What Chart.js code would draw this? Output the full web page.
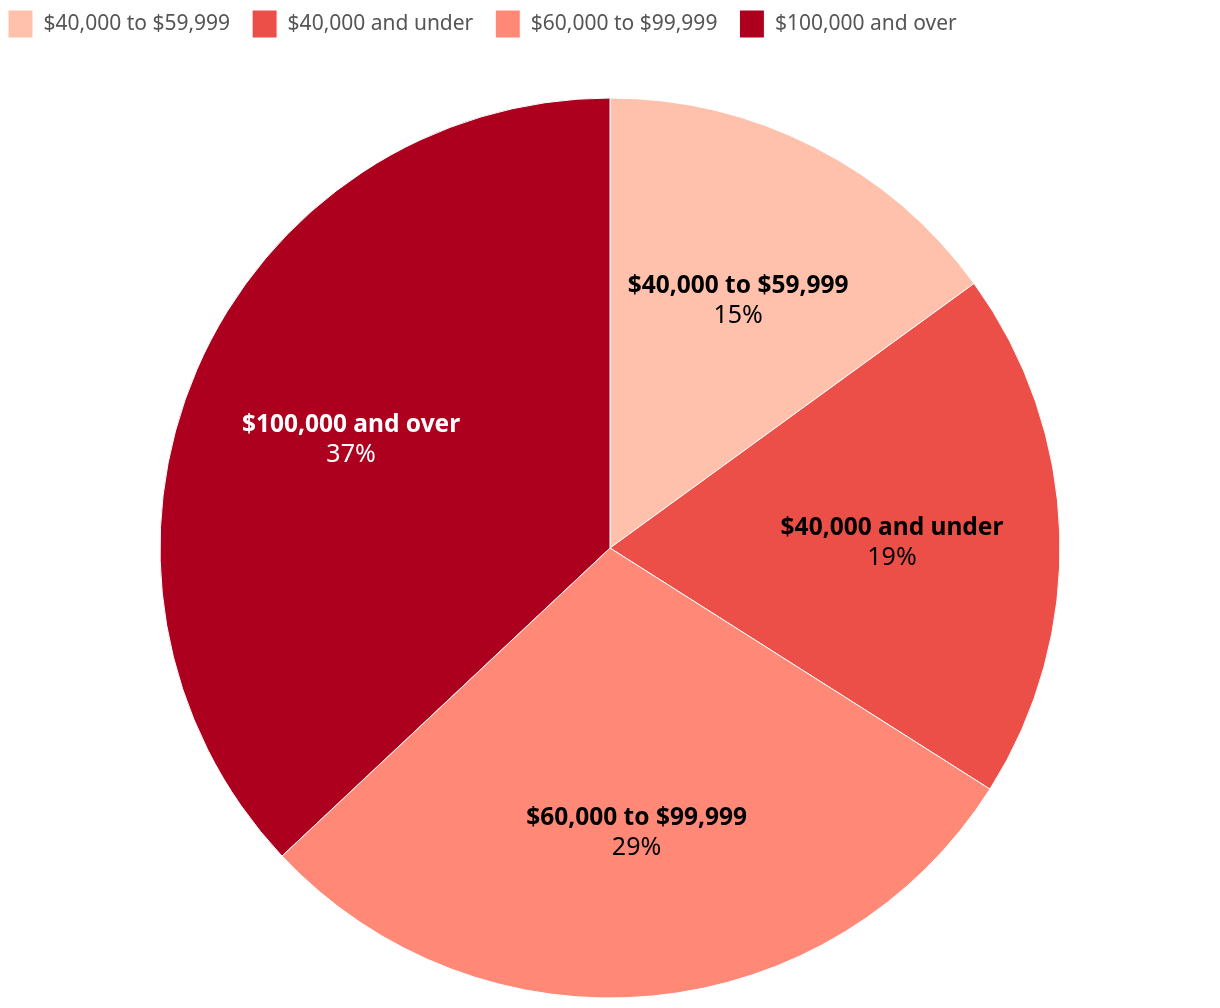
<!DOCTYPE html>
<html>
<head>
<meta charset="utf-8">
<script src="https://cdn.jsdelivr.net/npm/chart.js@4.4.1/dist/chart.umd.min.js"></script>
<style>
  html, body { margin: 0; padding: 0; background: #fff; height: 1008px; overflow: hidden; }
  /* a bit taller than the window so the pie sits lower, like the original */
  .chart-box { width: 1220px; height: 1048px; position: relative; }
</style>
</head>
<body>
<div class="chart-box"><canvas id="pie"></canvas></div>
<script>
const categories = ["$40,000 to $59,999", "$40,000 and under", "$60,000 to $99,999", "$100,000 and over"];
const shares = [15, 19, 29, 37];
const sliceColors = ["#FFC1AB", "#EB4F47", "#FF8877", "#AD001E"];
const labelColors = ["#000", "#000", "#000", "#fff"];

const fontFamily = "'Noto Sans', sans-serif";

// draws the name + percent inside each slice
const sliceLabels = {
  id: "sliceLabels",
  afterDatasetsDraw(chart) {
    const ctx = chart.ctx;
    const meta = chart.getDatasetMeta(0);
    meta.data.forEach((arc, i) => {
      const mid = (arc.startAngle + arc.endAngle) / 2;
      const r = arc.outerRadius * 0.627;
      const x = arc.x + Math.cos(mid) * r;
      const y = arc.y + Math.sin(mid) * r;
      ctx.save();
      ctx.textAlign = "center";
      ctx.textBaseline = "middle";
      ctx.fillStyle = labelColors[i];
      ctx.font = "bold 24.5px " + fontFamily;
      ctx.fillText(categories[i], x, y - 11);
      ctx.font = "25px " + fontFamily;
      ctx.fillText(shares[i] + "%", x, y + 19);
      ctx.restore();
    });
  }
};

new Chart(document.getElementById("pie"), {
  type: "pie",
  data: {
    labels: categories,
    datasets: [{
      data: shares,
      backgroundColor: sliceColors,
      borderColor: "#fff",
      borderWidth: 1,
      radius: 450
    }]
  },
  options: {
    responsive: true,
    maintainAspectRatio: false,
    animation: false,
    layout: { padding: { left: -14, right: -14, top: -12, bottom: 0 } },
    plugins: {
      tooltip: { enabled: false },
      legend: {
        position: "top",
        align: "start",
        labels: {
          boxWidth: 25,
          boxHeight: 28,
          padding: 22,
          color: "#555",
          font: { family: fontFamily, size: 21 }
        }
      }
    }
  },
  plugins: [sliceLabels]
});
</script>
</body>
</html>
